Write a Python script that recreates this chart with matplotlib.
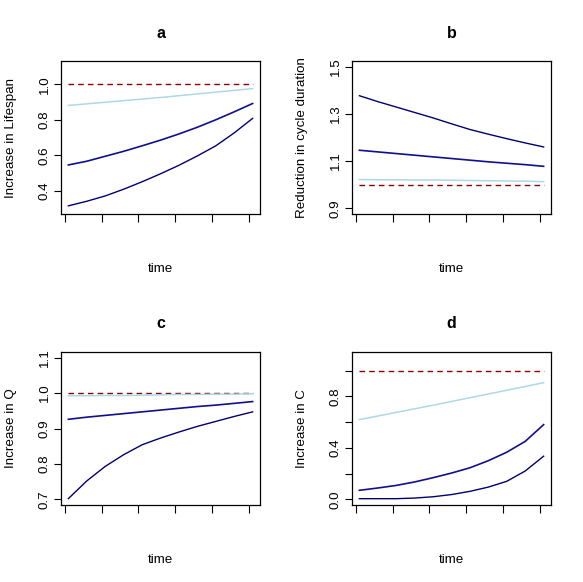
import matplotlib
matplotlib.use("Agg")
import matplotlib.pyplot as plt

plt.rcParams["font.family"] = ["Liberation Sans", "DejaVu Sans"]

# time points (x axis has ticks only, no labels)
TIME = [1, 6, 11, 16, 21, 26, 31, 36, 41, 46, 51]
XTICKS = [0, 10, 20, 30, 40, 50]

# panel a: Increase in Lifespan
A_REF = [1.0] * 11
A_LIGHT = [0.881, 0.890, 0.899, 0.908, 0.917, 0.926, 0.936, 0.946, 0.956, 0.966, 0.976]
A_MID = [0.545, 0.566, 0.594, 0.622, 0.653, 0.685, 0.720, 0.758, 0.800, 0.845, 0.892]
A_LOW = [0.314, 0.340, 0.370, 0.408, 0.450, 0.495, 0.543, 0.596, 0.653, 0.726, 0.808]

# panel b: Reduction in cycle duration
B_REF = [1.0] * 11
B_LIGHT = [1.022, 1.021, 1.021, 1.020, 1.020, 1.019, 1.018, 1.017, 1.016, 1.015, 1.013]
B_MID = [1.146, 1.139, 1.132, 1.125, 1.118, 1.111, 1.104, 1.097, 1.091, 1.085, 1.078]
B_TOP = [1.377, 1.352, 1.329, 1.306, 1.283, 1.258, 1.234, 1.214, 1.195, 1.177, 1.160]

# panel c: Increase in Q
C_REF = [1.0] * 11
C_LIGHT = [0.9925, 0.9925, 0.993, 0.993, 0.994, 0.995, 0.996, 0.996, 0.997, 0.997, 0.998]
C_MID = [0.926, 0.932, 0.937, 0.942, 0.947, 0.952, 0.957, 0.962, 0.966, 0.971, 0.976]
C_LOW = [0.702, 0.752, 0.793, 0.826, 0.854, 0.873, 0.890, 0.906, 0.920, 0.934, 0.947]

# panel d: Increase in C
D_REF = [1.0] * 11
D_LIGHT = [0.619, 0.647, 0.675, 0.703, 0.731, 0.760, 0.789, 0.818, 0.847, 0.876, 0.906]
D_MID = [0.070, 0.088, 0.108, 0.135, 0.168, 0.204, 0.245, 0.300, 0.366, 0.450, 0.580]
D_LOW = [0.005, 0.005, 0.005, 0.010, 0.020, 0.037, 0.062, 0.095, 0.140, 0.220, 0.335]

PANELS = [
    ("a", "Increase in Lifespan", (0.3, 1.1), [0.4, 0.6, 0.8, 1.0], ["0.4", "0.6", "0.8", "1.0"],
     A_REF, A_LIGHT, A_MID, A_LOW),
    ("b", "Reduction in cycle duration", (0.9, 1.5), [0.9, 1.1, 1.3, 1.5], ["0.9", "1.1", "1.3", "1.5"],
     B_REF, B_LIGHT, B_MID, B_TOP),
    ("c", "Increase in Q", (0.7, 1.1), [0.7, 0.8, 0.9, 1.0, 1.1], ["0.7", "0.8", "0.9", "1.0", "1.1"],
     C_REF, C_LIGHT, C_MID, C_LOW),
    ("d", "Increase in C", (0.0, 1.1), [0.0, 0.2, 0.4, 0.6, 0.8, 1.0], ["0.0", "", "0.4", "", "0.8", ""],
     D_REF, D_LIGHT, D_MID, D_LOW),
]

W, H = 583, 582
fig = plt.figure(figsize=(W / 100, H / 100), dpi=100)

# plot-box pixel positions (left, top, right, bottom)
BOXES = [(61, 61, 260, 214), (352, 61, 551, 214), (61, 352, 260, 505), (352, 352, 551, 505)]
FS = 9.6

for (title, ylab, ylim, yt, ytl, ref, light, mid, low), (l, t, r, b) in zip(PANELS, BOXES):
    ax = fig.add_axes([l / W, 1 - b / H, (r - l) / W, (b - t) / H])
    ax.plot(TIME, ref, color="#8B0000", lw=1, ls=(0, (4, 3)))
    ax.plot(TIME, light, color="#ADD8E6", lw=1.1)
    ax.plot(TIME, mid, color="#10108C", lw=1.2)
    ax.plot(TIME, low, color="#000070", lw=1)
    xr = TIME[-1] - TIME[0]
    ax.set_xlim(TIME[0] - 0.04 * xr, TIME[-1] + 0.04 * xr)
    yr = ylim[1] - ylim[0]
    ax.set_ylim(ylim[0] - 0.04 * yr, ylim[1] + 0.04 * yr)
    ax.set_xticks(XTICKS)
    ax.set_xticklabels([])
    ax.set_yticks(yt)
    ax.set_yticklabels(ytl, rotation=90, va="center", fontsize=FS)
    ax.tick_params(direction="out", length=5.4, width=0.8, pad=2)
    for s in ax.spines.values():
        s.set_linewidth(0.9)

    cx = (l + r) / 2
    fig.text(cx / W, 1 - (t - 28) / H, title, fontsize=11.5, fontweight="bold",
             ha="center", va="center")
    fig.text(cx / W, 1 - (b + 55) / H, "time", fontsize=FS, ha="center", va="center")
    fig.text((l - 50) / W, 1 - (t + b) / 2 / H, ylab, fontsize=FS, rotation=90,
             ha="center", va="center")

fig.savefig("out.png", dpi=100)
